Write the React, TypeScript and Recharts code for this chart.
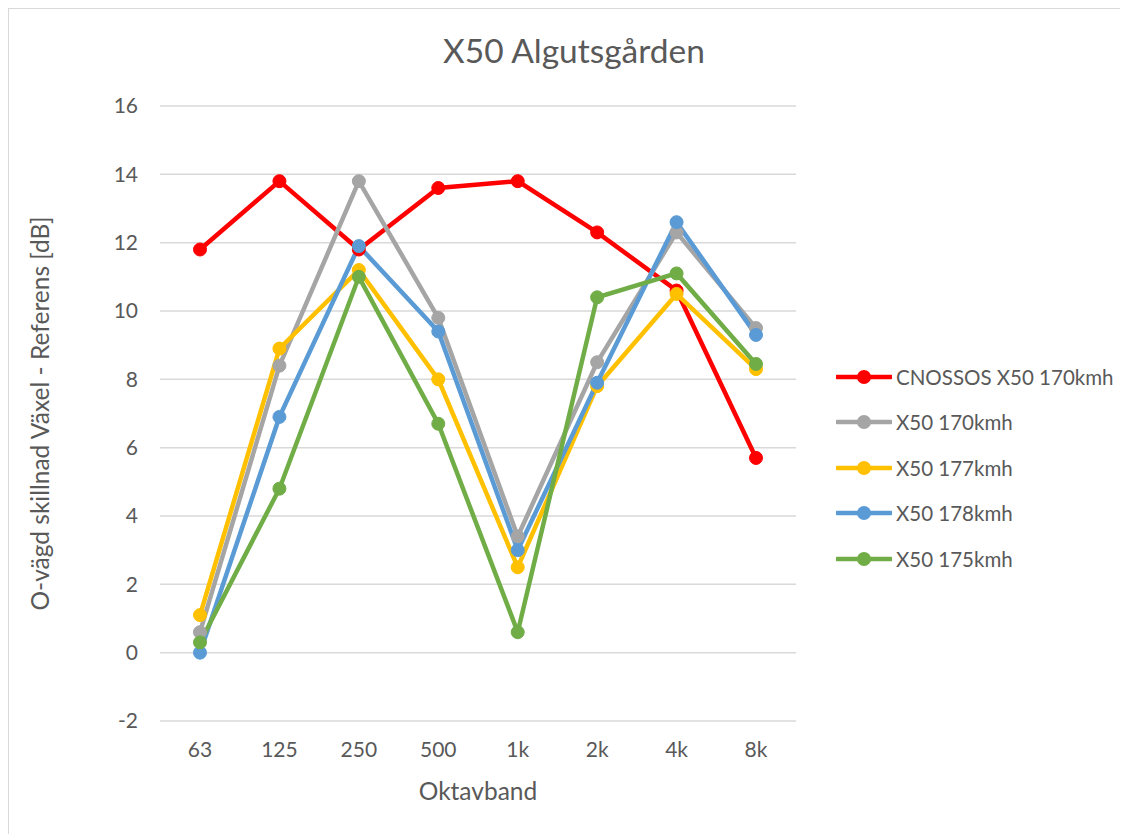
import { LineChart, Line, XAxis, YAxis, CartesianGrid } from 'recharts';

const bands = ['63', '125', '250', '500', '1k', '2k', '4k', '8k'];
const cnossos170 = [11.8, 13.8, 11.8, 13.6, 13.8, 12.3, 10.6, 5.7];
const x50_170 = [0.6, 8.4, 13.8, 9.8, 3.4, 8.5, 12.3, 9.5];
const x50_177 = [1.1, 8.9, 11.2, 8.0, 2.5, 7.8, 10.5, 8.3];
const x50_178 = [0.0, 6.9, 11.9, 9.4, 3.0, 7.9, 12.6, 9.3];
const x50_175 = [0.3, 4.8, 11.0, 6.7, 0.6, 10.4, 11.1, 8.45];
const yTicks = [-2, 0, 2, 4, 6, 8, 10, 12, 14, 16];

const series = [
  { key: 'cnossos170', name: 'CNOSSOS X50 170kmh', color: '#FF0000', values: cnossos170 },
  { key: 'x50_170', name: 'X50 170kmh', color: '#A5A5A5', values: x50_170 },
  { key: 'x50_177', name: 'X50 177kmh', color: '#FFC000', values: x50_177 },
  { key: 'x50_178', name: 'X50 178kmh', color: '#5B9BD5', values: x50_178 },
  { key: 'x50_175', name: 'X50 175kmh', color: '#70AD47', values: x50_175 },
];

const data = bands.map((band, i) => {
  const row: Record<string, string | number> = { band };
  series.forEach((s) => {
    row[s.key] = s.values[i];
  });
  return row;
});

const font = 'Lato, "Open Sans", sans-serif';
const textColor = '#595959';

export default function App() {
  return (
    <div
      style={{
        position: 'relative',
        width: 1119,
        height: 825,
        border: '1px solid #d9d9d9',
        borderRight: 'none',
        fontFamily: font,
        background: '#fff',
      }}
    >
      <div
        style={{
          position: 'absolute',
          top: 21,
          left: 0,
          width: 1130,
          textAlign: 'center',
          fontSize: 33.5,
          color: textColor,
        }}
      >
        X50 Algutsgården
      </div>
      <LineChart
        width={1119}
        height={825}
        data={data}
        margin={{ top: 97, right: 332, left: 20, bottom: 33 }}
        style={{ fontFamily: font }}
      >
        <CartesianGrid vertical={false} stroke="#d9d9d9" strokeWidth={1.5} />
        <XAxis
          dataKey="band"
          axisLine={false}
          tickLine={false}
          height={80}
          tickMargin={15}
          padding={{ left: 40, right: 40 }}
          tick={{ fill: textColor, fontSize: 21 }}
          label={{ value: 'Oktavband', position: 'insideBottom', offset: 1, fill: textColor, fontSize: 24.5 }}
        />
        <YAxis
          width={131}
          domain={[-2, 16]}
          ticks={yTicks}
          interval={0}
          axisLine={false}
          tickLine={false}
          tickMargin={16}
          tick={{ fill: textColor, fontSize: 21 }}
          label={{
            value: 'O-vägd skillnad Växel - Referens [dB]',
            angle: -90,
            position: 'insideLeft',
            offset: 11,
            fill: textColor,
            fontSize: 24.5,
            style: { textAnchor: 'middle' },
          }}
        />
        {series.map((s) => (
          <Line
            key={s.key}
            type="linear"
            dataKey={s.key}
            name={s.name}
            stroke={s.color}
            strokeWidth={4.5}
            dot={{ r: 6.5, fill: s.color, stroke: s.color, strokeWidth: 1 }}
            activeDot={false}
            isAnimationActive={false}
          />
        ))}
      </LineChart>
      <div style={{ position: 'absolute', left: 827, top: 345 }}>
        {series.map((s) => (
          <div key={s.key} style={{ display: 'flex', alignItems: 'center', height: 45.5 }}>
            <svg width={56} height={20}>
              <line x1={1} y1={10} x2={55} y2={10} stroke={s.color} strokeWidth={4.5} strokeLinecap="round" />
              <circle cx={28} cy={10} r={7} fill={s.color} />
            </svg>
            <span style={{ marginLeft: 4, fontSize: 20.5, color: textColor }}>{s.name}</span>
          </div>
        ))}
      </div>
    </div>
  );
}
